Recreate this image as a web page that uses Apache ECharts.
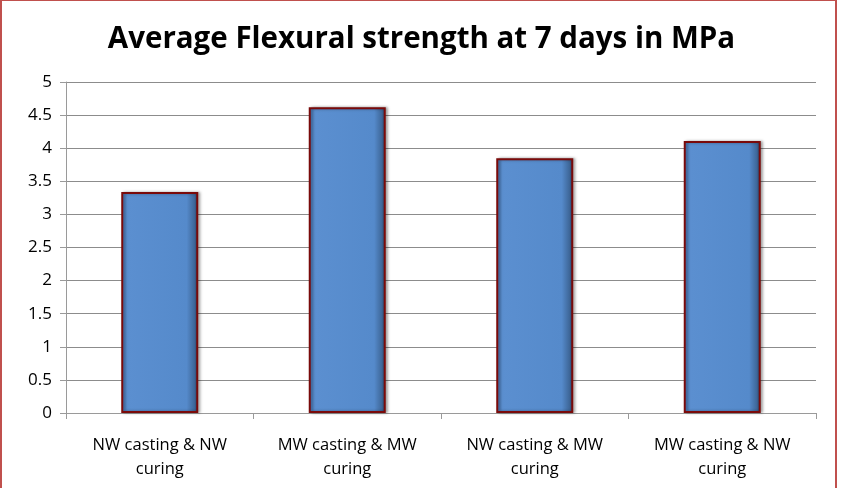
<!DOCTYPE html>
<html><head><meta charset="utf-8">
<script src="https://cdn.jsdelivr.net/npm/echarts@6/dist/echarts.min.js"></script>
<style>html,body{margin:0;padding:0;background:#fff}#c{width:843px;height:488px}</style>
</head><body><div id="c"></div>
<script>
var categories = ['NW casting & NW\ncuring', 'MW casting & MW\ncuring', 'NW casting & MW\ncuring', 'MW casting & NW\ncuring'];
var values = [3.34, 4.62, 3.85, 4.11];
var titleText = 'Average Flexural strength at 7 days in MPa';

var chart = echarts.init(document.getElementById('c'));
chart.setOption({
  animation: false,
  title: {
    text: titleText, left: 'center', top: 20,
    textStyle: {fontFamily: 'Open Sans', fontWeight: 'bold', fontSize: 29.5, color: '#000'}
  },
  graphic: [{
    type: 'rect', shape: {x: 1, y: 0, width: 835, height: 520},
    style: {fill: 'none', stroke: '#c0504d', lineWidth: 2}, z: 100
  }],
  grid: {left: 66, right: 27, top: 82, bottom: 75},
  xAxis: {
    type: 'category', data: categories,
    axisLine: {lineStyle: {color: '#9a9a9a', width: 1}},
    axisTick: {show: true, alignWithLabel: false, length: 6, lineStyle: {color: '#9a9a9a'}},
    axisLabel: {fontFamily: 'Open Sans', fontSize: 16.5, color: '#000', margin: 20, lineHeight: 24}
  },
  yAxis: {
    type: 'value', min: 0, max: 5, interval: 0.5,
    axisLine: {show: true, lineStyle: {color: '#9a9a9a', width: 1}},
    axisTick: {show: true, length: 6, lineStyle: {color: '#9a9a9a'}},
    splitLine: {lineStyle: {color: '#8c8c8c', width: 1}},
    axisLabel: {fontFamily: 'Open Sans', fontSize: 17, color: '#000', margin: 14}
  },
  series: [{
    type: 'bar', data: values, barWidth: 77,
    itemStyle: {
      color: new echarts.graphic.LinearGradient(0, 0, 1, 0, [
        {offset: 0, color: '#4a7ab8'},
        {offset: 0.08, color: '#5b8fd0'},
        {offset: 0.85, color: '#558acb'},
        {offset: 0.95, color: '#3e6799'},
        {offset: 1, color: '#233c5c'}
      ]),
      borderColor: '#7a0a0a', borderWidth: 2,
      shadowColor: 'rgba(0,0,0,0.35)', shadowBlur: 3, shadowOffsetX: 2
    }
  }]
});
</script></body></html>
